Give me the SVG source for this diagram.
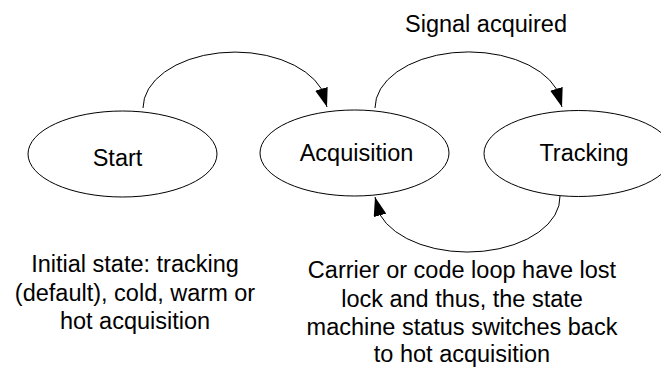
<svg xmlns="http://www.w3.org/2000/svg" width="661" height="369" viewBox="0 0 661 369">
<style>
.node{fill:#fff;stroke:#000;stroke-width:1}
.lbl{font-family:"Liberation Sans",Arial,sans-serif;font-size:23.5px;fill:#000;text-anchor:middle}
.edge{fill:none;stroke:#000;stroke-width:1}
</style>
<defs>
<marker id="arr" markerUnits="userSpaceOnUse" markerWidth="20" markerHeight="13" refX="19" refY="6.5" orient="auto" viewBox="0 0 20 13">
<path d="M0,0 L19,6.5 L0,13 z" fill="#000"/>
</marker>
</defs>
<rect width="661" height="369" fill="#fff"/>
<g id="start">
<ellipse class="node" cx="122.5" cy="154" rx="94.5" ry="43"/>
<text class="lbl" x="117.5" y="166">Start</text>
</g>
<g id="acquisition">
<ellipse class="node" cx="354.5" cy="153" rx="94.5" ry="43"/>
<text class="lbl" x="356.5" y="161">Acquisition</text>
</g>
<g id="tracking">
<ellipse class="node" cx="578.5" cy="153.5" rx="94.5" ry="43"/>
<text class="lbl" x="584" y="161">Tracking</text>
</g>
<g id="connectors">
<path class="edge" d="M143,108 A92,56 0 0 1 321.5,89 L327,107" marker-end="url(#arr)"/>
<path class="edge" d="M375,108 A93.5,56 0 0 1 556.5,89 L562,107" marker-end="url(#arr)"/>
<path class="edge" d="M560,196 A92.5,55 0 0 1 379.8,214.5 L375,197" marker-end="url(#arr)"/>
</g>
<g id="labels">
<text class="lbl" x="486" y="32">Signal acquired</text>
<text class="lbl" x="135" y="272">Initial state: tracking</text>
<text class="lbl" x="135" y="300.5">(default), cold, warm or</text>
<text class="lbl" x="135" y="329">hot acquisition</text>
<text class="lbl" x="462" y="278">Carrier or code loop have lost</text>
<text class="lbl" x="462" y="306.5">lock and thus, the state</text>
<text class="lbl" x="462" y="334.5">machine status switches back</text>
<text class="lbl" x="462" y="362">to hot acquisition</text>
</g>
</svg>
